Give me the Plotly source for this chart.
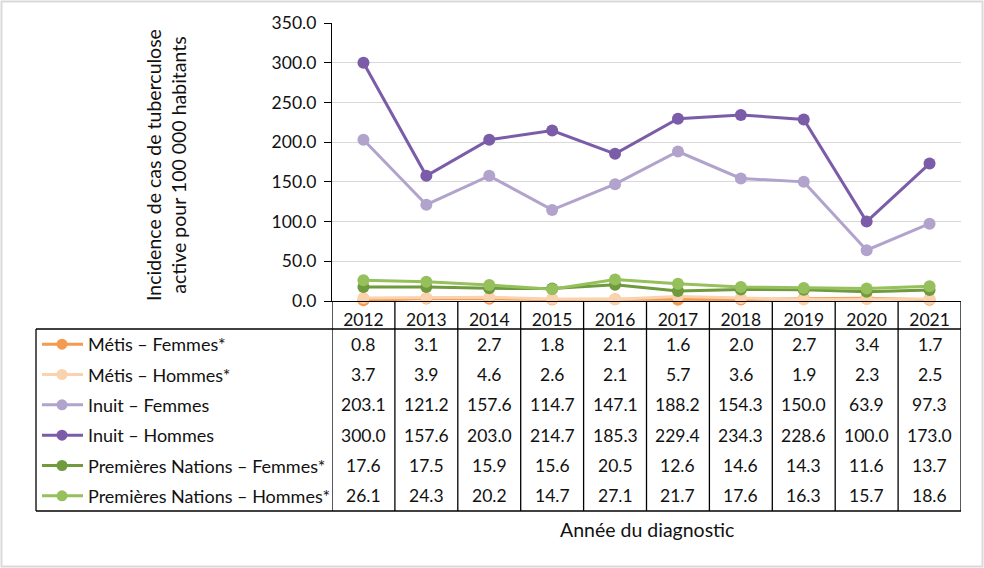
import plotly.graph_objects as go

years = ["2012", "2013", "2014", "2015", "2016", "2017", "2018", "2019", "2020", "2021"]
series_names = [
    "Métis – Femmes*",
    "Métis – Hommes*",
    "Inuit – Femmes",
    "Inuit – Hommes",
    "Premières Nations – Femmes*",
    "Premières Nations – Hommes*",
]
metis_f = [0.8, 3.1, 2.7, 1.8, 2.1, 1.6, 2.0, 2.7, 3.4, 1.7]
metis_h = [3.7, 3.9, 4.6, 2.6, 2.1, 5.7, 3.6, 1.9, 2.3, 2.5]
inuit_f = [203.1, 121.2, 157.6, 114.7, 147.1, 188.2, 154.3, 150.0, 63.9, 97.3]
inuit_h = [300.0, 157.6, 203.0, 214.7, 185.3, 229.4, 234.3, 228.6, 100.0, 173.0]
pn_f = [17.6, 17.5, 15.9, 15.6, 20.5, 12.6, 14.6, 14.3, 11.6, 13.7]
pn_h = [26.1, 24.3, 20.2, 14.7, 27.1, 21.7, 17.6, 16.3, 15.7, 18.6]
series_values = [metis_f, metis_h, inuit_f, inuit_h, pn_f, pn_h]
colors = ["#F59A4E", "#FAD3AE", "#B2A3CD", "#7B5CA8", "#6F9A3D", "#95C05B"]

y_title = "Incidence de cas de tuberculose<br>active pour 100 000 habitants"
x_title = "Année du diagnostic"

W, H = 984, 568
FONT = "Lato"
TXT = "#111111"

def px(x):
    return x / W

def py(y):
    return 1 - y / H

plot_left, plot_right = 332, 961
plot_top, plot_bottom = 23, 301
header_bottom = 329
table_bottom = 511
table_left = 36
row_h = (table_bottom - header_bottom) / len(series_names)

fig = go.Figure()

for name, vals, col in zip(series_names, series_values, colors):
    fig.add_trace(go.Scatter(
        x=years, y=vals, name=name, mode="lines+markers",
        line=dict(color=col, width=3),
        marker=dict(color=col, size=12),
        cliponaxis=False, showlegend=False,
    ))

shapes = []
annotations = []

shapes.append(dict(type="rect", xref="paper", yref="paper",
                   x0=px(1.5), x1=px(W - 1.5), y0=py(H - 1.5), y1=py(1.5),
                   line=dict(color="#D9D9D9", width=2), layer="below"))

LW = 1.3
shapes.append(dict(type="line", xref="paper", yref="paper",
                   x0=px(table_left), x1=px(plot_right), y0=py(header_bottom), y1=py(header_bottom),
                   line=dict(color="#000000", width=LW)))
shapes.append(dict(type="line", xref="paper", yref="paper",
                   x0=px(table_left), x1=px(plot_right), y0=py(table_bottom), y1=py(table_bottom),
                   line=dict(color="#000000", width=LW)))
shapes.append(dict(type="line", xref="paper", yref="paper",
                   x0=px(table_left), x1=px(table_left), y0=py(header_bottom), y1=py(table_bottom),
                   line=dict(color="#000000", width=LW)))
for i in range(len(years) + 1):
    shapes.append(dict(type="line", xref="x", yref="paper",
                       x0=i - 0.5, x1=i - 0.5, y0=py(plot_bottom), y1=py(table_bottom),
                       line=dict(color="#000000", width=LW)))

for r, (name, vals, col) in enumerate(zip(series_names, series_values, colors)):
    yc = header_bottom + row_h * (r + 0.5)
    shapes.append(dict(type="line", xref="paper", yref="paper",
                       x0=px(42), x1=px(83), y0=py(yc), y1=py(yc),
                       line=dict(color=col, width=3)))
    shapes.append(dict(type="circle", xref="paper", yref="paper",
                       x0=px(62 - 5.5), x1=px(62 + 5.5), y0=py(yc + 5.5), y1=py(yc - 5.5),
                       fillcolor=col, line=dict(color=col, width=0)))
    annotations.append(dict(text=name, xref="paper", yref="paper",
                            x=px(86), y=py(yc), xanchor="left", yanchor="middle",
                            showarrow=False, font=dict(family=FONT, size=18, color=TXT)))
    for i, v in enumerate(vals):
        annotations.append(dict(text=f"{v:.1f}", xref="x", yref="paper",
                                x=i, y=py(yc), xanchor="center", yanchor="middle",
                                showarrow=False, font=dict(family=FONT, size=17.5, color=TXT)))

annotations.append(dict(text=y_title, xref="paper", yref="paper",
                        x=px(166), y=py(165), xanchor="center", yanchor="middle",
                        textangle=-90, showarrow=False,
                        font=dict(family=FONT, size=19.5, color=TXT)))
annotations.append(dict(text=x_title, xref="paper", yref="paper",
                        x=px((plot_left + plot_right) / 2), y=py(529), xanchor="center", yanchor="middle",
                        showarrow=False, font=dict(family=FONT, size=19.5, color=TXT)))

fig.update_layout(
    autosize=True,
    margin=dict(l=0, r=0, t=0, b=0, pad=0, autoexpand=False),
    paper_bgcolor="white", plot_bgcolor="white",
    font=dict(family=FONT, size=17, color=TXT),
    shapes=shapes, annotations=annotations,
    xaxis=dict(domain=[px(plot_left), px(plot_right)], type="category",
               range=[-0.5, len(years) - 0.5], showgrid=False,
               showline=True, linecolor="#000000", linewidth=LW,
               ticks="", tickfont=dict(family=FONT, size=17.5, color=TXT),
               ticklabelstandoff=3, zeroline=False, automargin=False),
    yaxis=dict(domain=[py(plot_bottom), py(plot_top)], range=[0, 350],
               tickvals=[0, 50, 100, 150, 200, 250, 300, 350], tickformat=".1f",
               showgrid=True, gridcolor="#D9D9D9", gridwidth=1,
               showline=True, linecolor="#000000", linewidth=LW,
               ticks="outside", ticklen=7, tickcolor="#000000",
               ticklabelstandoff=4,
               tickfont=dict(family=FONT, size=17.5, color=TXT), zeroline=False,
               automargin=False),
)

post = (
    "document.documentElement.style.height='100%';"
    "document.documentElement.style.margin='0';"
    "document.documentElement.style.overflow='hidden';"
    "document.body.style.height='100%';"
    "document.body.style.margin='0';document.body.style.padding='0';"
    "document.body.style.overflow='hidden';"
    "var gd=document.getElementById('{plot_id}');"
    "gd.style.position='fixed';gd.style.top='0px';gd.style.left='0px';"
    "gd.style.width='100vw';gd.style.height='100vh';"
    "Plotly.Plots.resize(gd);"
)
fig.write_html("out.html", post_script=post, config={"displayModeBar": False, "responsive": True},
               default_width="100%", default_height="100%")
